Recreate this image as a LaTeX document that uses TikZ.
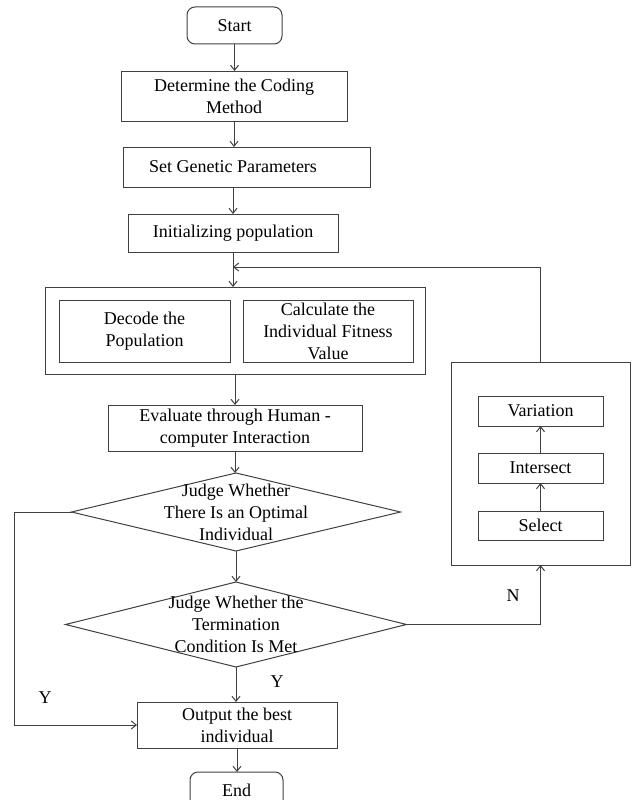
\documentclass[tikz,border=0pt]{standalone}
\usepackage{fontspec}
\setmainfont{Liberation Serif}
\usetikzlibrary{arrows.meta,shapes.geometric}
\begin{document}
\begin{tikzpicture}[x=1pt,y=-1pt,
  every node/.style={font=\fontsize{18}{22}\selectfont},
  ln/.style={draw=black!75, line width=1pt},
  box/.style={ln, rectangle, inner sep=0pt, outer sep=0pt, align=center},
  term/.style={box, rounded corners=8pt},
  dia/.style={ln, diamond, inner sep=0pt, outer sep=0pt},
  arr/.style={ln, -{Straight Barb[length=5pt,width=8pt]}},
  lbl/.style={inner sep=0pt, align=center}
]
\useasboundingbox (0,0) rectangle (632,800);

% main column
\node[term, minimum width=95, minimum height=37] (start) at (234.5,25.5) {Start};
\node[box, minimum width=226, minimum height=50] (determine) at (234,96) {Determine the Coding\\Method};
\node[box, minimum width=247, minimum height=40] (setbox) at (246.5,167) {};
\node[lbl] (settxt) at (233,167) {Set Genetic Parameters};
\node[box, minimum width=210, minimum height=38] (init) at (233,233) {Initializing population};

\node[box, minimum width=380, minimum height=87] (big) at (235,330.5) {};
\node[box, minimum width=171, minimum height=62] (decode) at (144.5,331) {Decode the\\Population};
\node[box, minimum width=170, minimum height=62] (calc) at (328,331) {Calculate the\\Individual Fitness\\Value};

\node[box, minimum width=254, minimum height=46] (eval) at (235,428) {Evaluate through Human -\\computer Interaction};

\node[dia, minimum width=329, minimum height=78] (d1) at (236,512) {};
\node[lbl] (d1txt) at (236,512) {Judge Whether\\There Is an Optimal\\Individual};

\node[dia, minimum width=341, minimum height=85] (d2) at (236,624.5) {};
\node[lbl] (d2txt) at (236,624.5) {Judge Whether the\\Termination\\Condition Is Met};

\node[box, minimum width=200, minimum height=46] (out) at (237,725) {Output the best\\individual};
\node[term, minimum width=93, minimum height=37] (end) at (236.5,790.5) {End};

% right panel
\node[box, minimum width=179, minimum height=203] (right) at (540.5,463.5) {};
\node[box, minimum width=125, minimum height=30] (variation) at (540.5,411) {Variation};
\node[box, minimum width=125, minimum height=30] (intersect) at (540.5,468) {Intersect};
\node[box, minimum width=125, minimum height=29] (select) at (540.5,525.5) {Select};

\coordinate (loopy) at (0,267);
\coordinate (lft) at (14,0);

% connectors
\draw[arr] (start.south) -- (start.south |- determine.north);
\draw[arr] (determine.south) -- (determine.south |- setbox.north);
\draw[arr] (init.north |- setbox.south) -- (init.north);
\draw[arr] (init.south) -- (init.south |- big.north);
\draw[arr] (right.north) -- (right.north |- loopy) -- (init.south |- loopy);
\draw[arr] (big.south) -- (big.south |- eval.north);
\draw[arr] (eval.south) -- (eval.south |- d1.north);
\draw[arr] (d1.south) -- (d2.north);
\draw[arr] (d2.south) -- (d2.south |- out.north);
\draw[arr] (d1.west) -- (d1.west -| lft) |- (out.west);
\draw[arr] (d2.east) -| (right.south);
\draw[arr] (select.north) -- (intersect.south);
\draw[arr] (intersect.north) -- (variation.south);
\draw[arr] (out.south) -- (out.south |- end.north);

% labels
\node[lbl] (y1) at (277,682) {Y};
\node[lbl] (y2) at (45,698) {Y};
\node[lbl] (n1) at (513,596) {N};
\end{tikzpicture}
\end{document}
